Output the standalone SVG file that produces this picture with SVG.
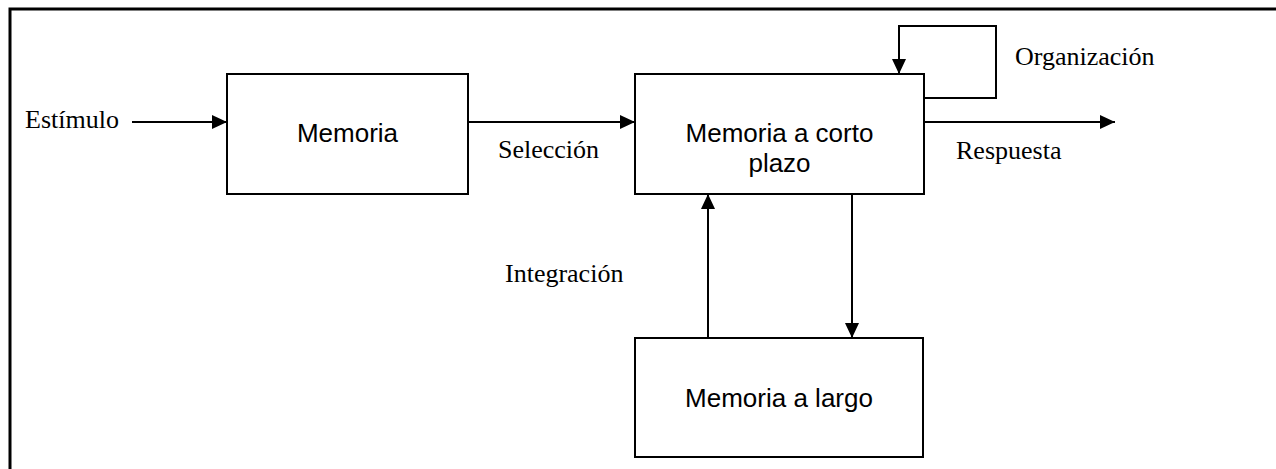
<svg xmlns="http://www.w3.org/2000/svg" width="1276" height="469" viewBox="0 0 1276 469">
  <style>
    .box { fill: #ffffff; stroke: #000000; stroke-width: 2; }
    .wire { fill: none; stroke: #000000; stroke-width: 2; }
    .frame { fill: none; stroke: #000000; stroke-width: 3; }
    .inner { font-family: "Liberation Sans", Arial, sans-serif; font-size: 26px; fill: #000000; text-anchor: middle; }
    .label { font-family: "Liberation Serif", "Times New Roman", serif; font-size: 26px; fill: #000000; }
  </style>
  <defs>
    <marker id="arrow" viewBox="0 0 15 14" refX="15" refY="7" markerWidth="15" markerHeight="14" markerUnits="userSpaceOnUse" orient="auto">
      <path d="M0,0 L15,7 L0,14 Z" fill="#000000"/>
    </marker>
  </defs>

  <rect x="0" y="0" width="1276" height="469" fill="#ffffff"/>

  <!-- page frame: top and left rules only -->
  <path class="frame" d="M10,469 V9 H1276"/>

  <g id="connectors">
    <line class="wire" x1="132" y1="122" x2="227" y2="122" marker-end="url(#arrow)"/>
    <line class="wire" x1="468" y1="122" x2="635" y2="122" marker-end="url(#arrow)"/>
    <line class="wire" x1="924" y1="122" x2="1115" y2="122" marker-end="url(#arrow)"/>
    <path class="wire" d="M924,98 H996 V26 H899 V74" marker-end="url(#arrow)"/>
    <line class="wire" x1="708" y1="338" x2="708" y2="194" marker-end="url(#arrow)"/>
    <line class="wire" x1="852" y1="194" x2="852" y2="338" marker-end="url(#arrow)"/>
  </g>

  <g id="memoria">
    <rect class="box" x="227" y="74" width="241" height="120"/>
    <text class="inner" x="347.5" y="142">Memoria</text>
  </g>

  <g id="memoria-corto">
    <rect class="box" x="635" y="74" width="289" height="120"/>
    <text class="inner" x="779.5" y="142">Memoria a corto</text>
    <text class="inner" x="779.5" y="172">plazo</text>
  </g>

  <g id="memoria-largo">
    <rect class="box" x="635" y="338" width="288" height="119"/>
    <text class="inner" x="779" y="407">Memoria a largo</text>
  </g>

  <g id="labels">
    <text class="label" x="25" y="128">Estímulo</text>
    <text class="label" x="498" y="158">Selección</text>
    <text class="label" x="956" y="159">Respuesta</text>
    <text class="label" x="1015" y="65">Organización</text>
    <text class="label" x="505" y="282">Integración</text>
  </g>
</svg>
